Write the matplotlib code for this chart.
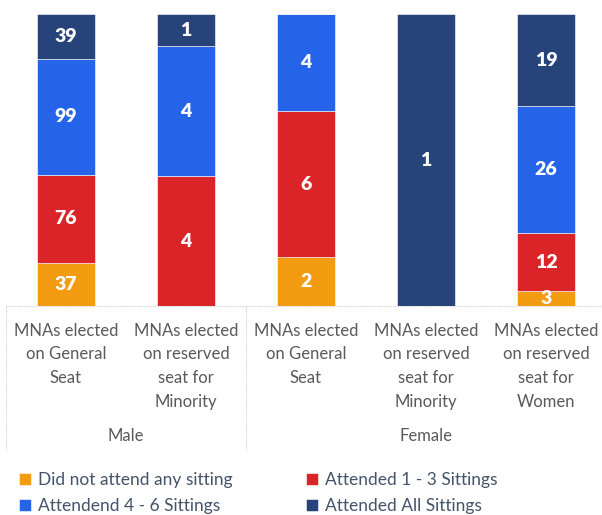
import matplotlib.pyplot as plt
import matplotlib.transforms as mtransforms
import numpy as np

# categories (grouped by gender)
categories = ['MNAs elected\non General\nSeat', 'MNAs elected\non reserved\nseat for\nMinority',
              'MNAs elected\non General\nSeat', 'MNAs elected\non reserved\nseat for\nMinority',
              'MNAs elected\non reserved\nseat for\nWomen']
groups = ['Male', 'Female']
group_sizes = [2, 3]

# counts per attendance class
did_not_attend = [37, 0, 2, 0, 3]
attended_1_3 = [76, 4, 6, 0, 12]
attended_4_6 = [99, 4, 4, 0, 26]
attended_all = [39, 1, 0, 1, 19]

series_names = ['Did not attend any sitting', 'Attended 1 - 3 Sittings',
                'Attendend 4 - 6 Sittings', 'Attended All Sittings']
colors = ['#F39C12', '#DA2427', '#2563E8', '#26447A']

plt.rcParams['font.family'] = ['Lato', 'DejaVu Sans']

data = np.array([did_not_attend, attended_1_3, attended_4_6, attended_all], dtype=float)
totals = data.sum(axis=0)
shares = data / totals

fig = plt.figure(figsize=(6.02, 5.15), dpi=100)
ax = fig.add_axes([6 / 602, 1 - 306 / 515, 600 / 602, 292 / 515])

x = np.arange(len(categories))
bottom = np.zeros(len(categories))
for i in range(len(series_names)):
    ax.bar(x, shares[i], 0.48, bottom=bottom, color=colors[i], label=series_names[i],
           edgecolor='#FFFFFF', linewidth=0.4)
    for j in range(len(categories)):
        if data[i, j] > 0:
            ax.text(x[j], bottom[j] + shares[i, j] / 2, f'{int(data[i, j])}',
                    ha='center', va='center', color='white', fontsize=14, fontweight='heavy')
    bottom += shares[i]

ax.set_xlim(-0.5, 4.5)
ax.set_ylim(0, 1)
ax.axis('off')

# category and group labels with dotted separators
trans = mtransforms.blended_transform_factory(ax.transData, ax.transAxes)
line_kw = dict(color='#D0D0D0', linestyle=(0, (1, 1)), linewidth=0.8, clip_on=False, transform=trans)
ax.plot([-0.5, 4.48], [0, 0], **line_kw)
for xv in [-0.5, 1.5, 4.48]:
    ax.plot([xv, xv], [0, -0.495], **line_kw)

for j, lab in enumerate(categories):
    ax.text(x[j], -0.058, lab, ha='center', va='top', transform=trans,
            fontsize=12, color='#595959', linespacing=1.58)

start = 0
for g, n in zip(groups, group_sizes):
    ax.text(start + (n - 1) / 2, -0.445, g, ha='center', va='center', transform=trans,
            fontsize=12, color='#595959')
    start += n

handles, labels = ax.get_legend_handles_labels()
order = [0, 2, 1, 3]
fig.legend([handles[k] for k in order], [labels[k] for k in order], loc='lower left',
           bbox_to_anchor=(0.006, -0.028), ncol=2,
           frameon=False, fontsize=12.5, handlelength=0.7, handleheight=0.7,
           handletextpad=0.4, columnspacing=4.2, labelspacing=0.55, labelcolor='#44546A')

fig.savefig('out.png', dpi=100)
